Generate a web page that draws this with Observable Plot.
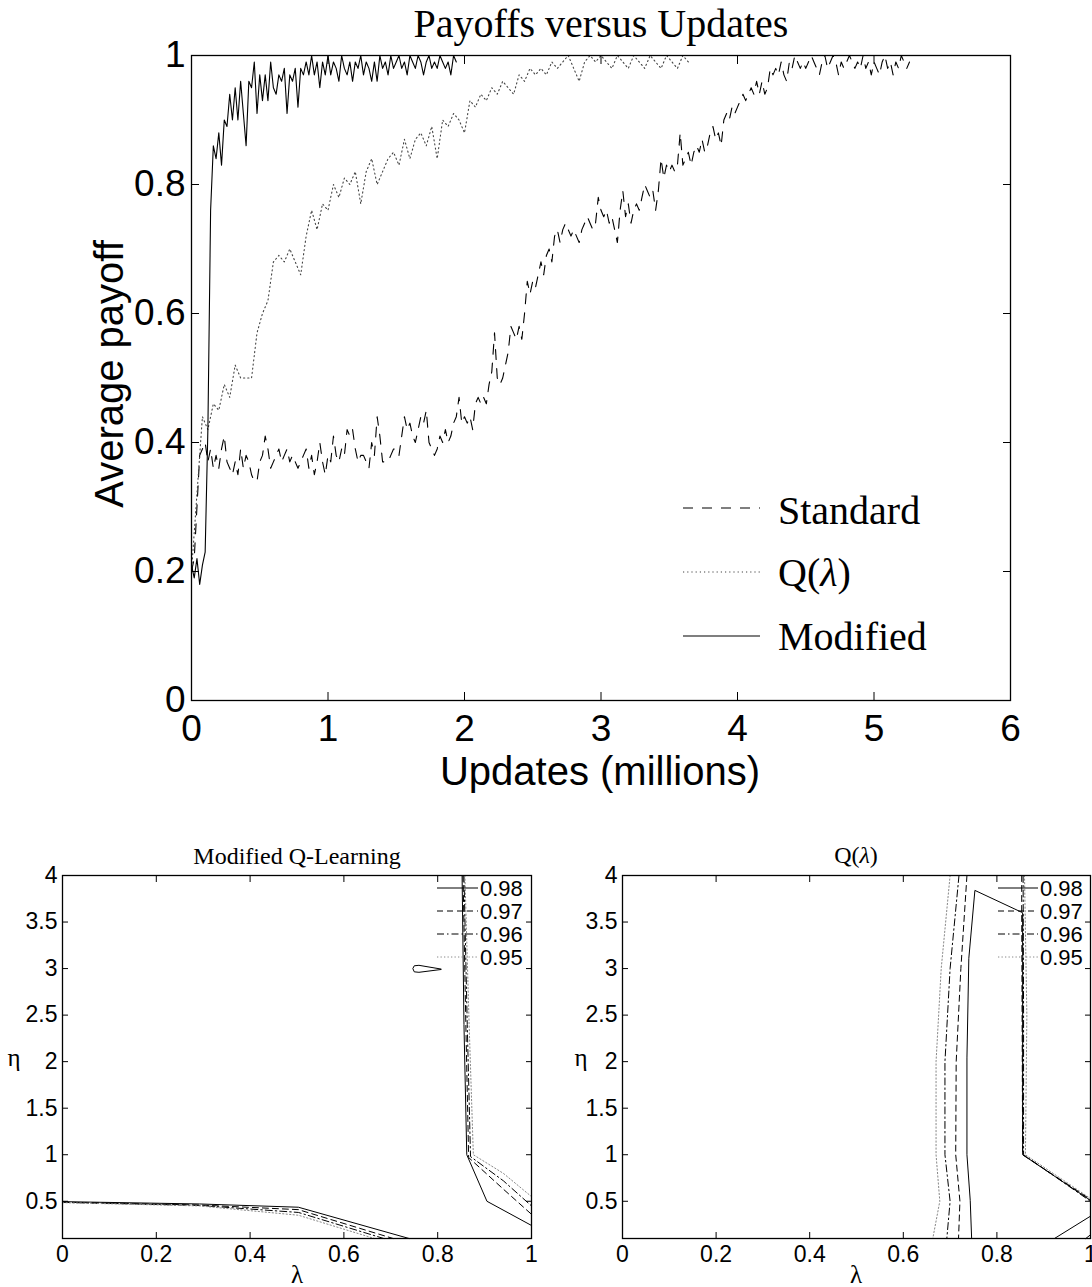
<!DOCTYPE html>
<html><head><meta charset="utf-8">
<script src="https://cdn.jsdelivr.net/npm/d3@7"></script>
<script src="https://cdn.jsdelivr.net/npm/@observablehq/plot@0.6"></script>
<style>
body{margin:0;background:#fff;}
#page{position:relative;width:1092px;height:1287px;overflow:hidden;background:#fff;}
#page > svg, #page > div{position:absolute;}
</style></head><body><div id="page"></div>
<script>
// ---------- Top chart data ----------
const topTitle = "Payoffs versus Updates";
const topXLabel = "Updates (millions)";
const topYLabel = "Average payoff";
const topXTicks = [0, 1, 2, 3, 4, 5, 6];
const topYTicks = [0, 0.2, 0.4, 0.6, 0.8, 1];
const seriesNames = ["Standard", "Q(λ)", "Modified"];

// Standard Q-learning, sampled every 0.02 million updates from 0
const standardStep = 0.02;
const standardPayoff = [
  0.20,0.22,0.30,0.38,0.39,0.40,0.37,0.39,0.36,0.38,
  0.36,0.39,0.41,0.37,0.36,0.35,0.37,0.35,0.39,0.36,
  0.38,0.37,0.35,0.34,0.34,0.37,0.38,0.41,0.39,0.36,
  0.37,0.38,0.39,0.37,0.38,0.39,0.37,0.38,0.37,0.36,
  0.37,0.38,0.39,0.36,0.38,0.35,0.37,0.40,0.37,0.35,
  0.38,0.37,0.41,0.38,0.37,0.39,0.38,0.42,0.41,0.42,
  0.39,0.37,0.38,0.38,0.37,0.36,0.40,0.38,0.44,0.41,
  0.37,0.37,0.37,0.38,0.39,0.39,0.38,0.41,0.44,0.42,
  0.43,0.41,0.40,0.42,0.44,0.43,0.45,0.40,0.39,0.38,
  0.39,0.41,0.40,0.42,0.40,0.41,0.43,0.44,0.47,0.43,
  0.44,0.43,0.44,0.42,0.46,0.47,0.46,0.47,0.46,0.49,
  0.51,0.57,0.50,0.49,0.50,0.52,0.54,0.58,0.57,0.56,
  0.58,0.56,0.60,0.65,0.63,0.65,0.64,0.66,0.68,0.66,
  0.69,0.70,0.68,0.72,0.73,0.71,0.73,0.74,0.73,0.72,
  0.73,0.72,0.71,0.73,0.74,0.75,0.74,0.73,0.74,0.78,
  0.76,0.75,0.76,0.74,0.75,0.73,0.71,0.76,0.79,0.75,
  0.77,0.74,0.76,0.77,0.76,0.78,0.80,0.79,0.78,0.79,
  0.76,0.79,0.84,0.81,0.83,0.82,0.83,0.82,0.83,0.88,
  0.83,0.84,0.85,0.83,0.85,0.86,0.85,0.87,0.85,0.86,
  0.88,0.89,0.87,0.88,0.86,0.90,0.91,0.90,0.92,0.91,
  0.92,0.93,0.94,0.93,0.94,0.95,0.94,0.96,0.94,0.96,
  0.94,0.95,0.98,0.97,0.98,0.97,0.99,0.97,0.96,0.99,
  0.98,1.00,0.99,0.98,0.99,0.98,0.99,1.00,0.99,0.98,
  0.97,0.99,1.00,0.98,0.99,1.00,0.99,0.97,0.99,0.98,
  0.99,1.00,0.99,0.98,0.99,0.98,1.00,0.98,0.99,0.97,
  0.99,0.98,0.97,0.99,1.00,0.98,0.99,0.97,0.99,0.98,
  1.00,0.99,0.98,0.99
];

// Q(lambda), sampled every 0.04 million updates from 0
const qLambdaStep = 0.04;
const qLambdaPayoff = [
  0.20,0.32,0.44,0.42,0.46,0.45,0.49,0.47,0.52,0.50,
  0.50,0.50,0.57,0.60,0.62,0.68,0.69,0.68,0.70,0.68,
  0.66,0.72,0.76,0.73,0.77,0.76,0.80,0.78,0.81,0.80,
  0.82,0.77,0.82,0.84,0.80,0.82,0.84,0.85,0.83,0.87,
  0.84,0.87,0.88,0.86,0.89,0.84,0.90,0.89,0.91,0.90,
  0.88,0.93,0.92,0.94,0.93,0.95,0.94,0.96,0.95,0.94,
  0.97,0.96,0.98,0.97,0.98,0.97,0.99,0.98,0.99,1.00,
  0.98,0.96,0.99,1.00,0.99,1.00,0.99,0.98,1.00,0.99,
  0.98,1.00,0.99,0.98,1.00,0.99,0.98,1.00,0.99,0.98,
  1.00,0.99
];

// Modified Q-learning, sampled every 0.02 million updates from 0
const modifiedStep = 0.02;
const modifiedPayoff = [
  0.21,0.19,0.22,0.18,0.21,0.23,0.42,0.76,0.86,0.84,
  0.88,0.83,0.90,0.89,0.94,0.90,0.95,0.90,0.96,0.91,
  0.86,0.96,0.95,0.99,0.91,0.97,0.93,0.97,0.93,0.99,
  0.95,0.94,0.97,0.96,0.98,0.91,0.97,0.96,0.98,0.92,
  0.98,0.97,0.99,0.97,1.00,0.97,0.99,0.95,0.99,0.97,
  1.00,0.97,0.99,0.98,0.96,1.00,0.98,0.97,0.99,0.96,
  0.99,0.98,1.00,0.97,0.99,0.98,0.96,0.99,0.96,1.00,
  0.98,0.99,0.97,1.00,0.98,0.99,1.00,0.98,0.99,0.97,
  1.00,0.99,0.98,1.00,0.99,0.97,0.99,1.00,0.98,0.99,
  0.98,1.00,0.99,0.98,0.99,0.97,1.00,0.99
];

// ---------- Contour panels data ----------
const contourLevels = ["0.98", "0.97", "0.96", "0.95"];
const lambdaTicks = [0, 0.2, 0.4, 0.6, 0.8, 1];
const etaTicks = [0.5, 1, 1.5, 2, 2.5, 3, 3.5, 4];
const leftTitle = "Modified Q-Learning";

// Modified Q-Learning contours: pieces of [lambda, eta]
const mq98 = [
  [[0,0.496],[0.292,0.471],[0.503,0.436],[0.739,0.1]],
  [[0.852,4],[0.856,2.4],[0.862,1.0],[0.905,0.5],[1.0,0.24]],
  [[0.807,2.995],[0.76,3.035],[0.75,3.03],[0.747,3.0],[0.75,2.965],[0.76,2.96],[0.807,2.99]]
];
const mq97 = [
  [[0,0.49],[0.292,0.46],[0.503,0.41],[0.705,0.1]],
  [[0.854,4],[0.86,2.4],[0.866,0.97],[0.94,0.63],[1.0,0.36]]
];
const mq96 = [
  [[0,0.488],[0.292,0.455],[0.503,0.38],[0.685,0.1]],
  [[0.856,4],[0.863,2.4],[0.87,0.98],[0.94,0.72],[1.0,0.45]]
];
const mq95 = [
  [[0,0.485],[0.292,0.45],[0.503,0.35],[0.665,0.1]],
  [[0.858,4],[0.867,2.4],[0.876,1.0],[0.94,0.80],[1.0,0.55]]
];

// Q(lambda) contours
const ql98 = [
  [[0.746,0.1],[0.743,0.51],[0.736,1.0],[0.736,2.04],[0.740,3.11],[0.753,3.84],[0.855,3.6],[0.855,1.0],[1.0,0.51]],
  [[0.923,0.1],[1.0,0.34]]
];
const ql97 = [
  [[0.736,4],[0.723,3],[0.713,2],[0.712,1],[0.721,0.5],[0.718,0.1]],
  [[0.853,4],[0.853,3.6],[0.855,1.0],[1.0,0.52]],
  [[0.99,0.1],[1.0,0.14]]
];
const ql96 = [
  [[0.719,4],[0.700,3],[0.689,2],[0.689,1],[0.700,0.5],[0.693,0.1]],
  [[0.856,4],[0.857,2.5],[0.857,1.0],[1.0,0.5]]
];
const ql95 = [
  [[0.700,4],[0.681,3],[0.670,2],[0.670,1],[0.678,0.5],[0.663,0.1]],
  [[0.859,4],[0.864,2.5],[0.861,1.0],[1.0,0.53]]
];

// ---------- Styles ----------
const SANS = "'Liberation Sans', Arial, Helvetica, sans-serif";
const SERIF = "'Liberation Serif', 'DejaVu Serif', serif";
const seriesStyle = {
  "Standard": {stroke: "#000", dash: "10,9", width: 1.1},
  "Q(λ)": {stroke: "#444", dash: "1.2,3", width: 1.1},
  "Modified": {stroke: "#000", dash: null, width: 1.1}
};
const levelStyle = {
  "0.98": {stroke: "#000", dash: null},
  "0.97": {stroke: "#000", dash: "6,4"},
  "0.96": {stroke: "#000", dash: "7,3,1.5,3"},
  "0.95": {stroke: "#888", dash: "1.3,2.2"}
};

const page = document.getElementById("page");

function toRows(values, step) {
  return values.map((y, i) => ({x: Math.round(i * step * 1000) / 1000, y}));
}
const seriesRows = {
  "Standard": toRows(standardPayoff, standardStep),
  "Q(λ)": toRows(qLambdaPayoff, qLambdaStep),
  "Modified": toRows(modifiedPayoff, modifiedStep)
};

// ---------- Top plot ----------
const fmt = d => String(d);
const topPlot = Plot.plot({
  width: 1092, height: 800,
  marginTop: 55, marginBottom: 100, marginLeft: 191, marginRight: 82,
  style: {fontFamily: SANS, fontSize: "37px", color: "#000", background: "transparent", overflow: "visible"},
  x: {domain: [0, 6]},
  y: {domain: [0, 1]},
  marks: [
    ...seriesNames.map(name => Plot.line(seriesRows[name], {
      x: "x", y: "y", stroke: seriesStyle[name].stroke,
      strokeWidth: seriesStyle[name].width,
      strokeDasharray: seriesStyle[name].dash || undefined
    })),
    Plot.axisX({ticks: topXTicks, tickSize: -8, tickPadding: 22, tickFormat: fmt, label: null}),
    Plot.axisX({anchor: "top", ticks: topXTicks, tickSize: -8, tickFormat: () => "", label: null}),
    Plot.axisY({ticks: topYTicks, tickSize: -8, tickPadding: 14, tickFormat: fmt, label: null}),
    Plot.axisY({anchor: "right", ticks: topYTicks, tickSize: -8, tickFormat: () => "", label: null}),
    Plot.frame({stroke: "#000", strokeWidth: 1.3})
  ]
});
topPlot.style.left = "0px"; topPlot.style.top = "0px";
page.appendChild(topPlot);

// ---------- Contour panels ----------
function contourPanel(pieces, width, marginLeft, marginRight) {
  const marks = [];
  contourLevels.forEach((lev, li) => {
    const rows = [];
    pieces[li].forEach((piece, pi) => piece.forEach(([l, e]) => rows.push({lambda: l, eta: e, piece: pi})));
    marks.push(Plot.line(rows, {
      x: "lambda", y: "eta", z: "piece",
      stroke: levelStyle[lev].stroke, strokeWidth: 1,
      strokeDasharray: levelStyle[lev].dash || undefined
    }));
  });
  return Plot.plot({
    width, height: 447,
    marginTop: 35, marginBottom: 49, marginLeft, marginRight,
    style: {fontFamily: SANS, fontSize: "23px", color: "#000", background: "transparent", overflow: "visible"},
    x: {domain: [0, 1]},
    y: {domain: [0.1, 4]},
    marks: [
      ...marks,
      Plot.axisX({ticks: lambdaTicks, tickSize: -6, tickPadding: 13, tickFormat: fmt, label: null}),
      Plot.axisX({anchor: "top", ticks: lambdaTicks, tickSize: -6, tickFormat: () => "", label: null}),
      Plot.axisY({ticks: etaTicks, tickSize: -6, tickPadding: 11, tickFormat: fmt, label: null}),
      Plot.axisY({anchor: "right", ticks: etaTicks, tickSize: -6, tickFormat: () => "", label: null}),
      Plot.frame({stroke: "#000", strokeWidth: 1.3})
    ]
  });
}
const leftPanel = contourPanel([mq98, mq97, mq96, mq95], 545, 62, 14);
leftPanel.style.left = "0px"; leftPanel.style.top = "840px";
page.appendChild(leftPanel);
const rightPanel = contourPanel([ql98, ql97, ql96, ql95], 547, 77, 2);
rightPanel.style.left = "545px"; rightPanel.style.top = "840px";
page.appendChild(rightPanel);

// ---------- Overlay: titles, axis labels, legends ----------
const ov = d3.select(page).append("svg")
  .attr("width", 1092).attr("height", 1287)
  .style("left", "0px").style("top", "0px").style("pointer-events", "none");

function qLambdaText(sel) {
  sel.append("tspan").text("Q(");
  sel.append("tspan").attr("font-style", "italic").text("λ");
  sel.append("tspan").text(")");
}

// top title & labels
ov.append("text").attr("x", 601).attr("y", 37).attr("text-anchor", "middle")
  .attr("font-family", SERIF).attr("font-size", 40).text(topTitle);
ov.append("text").attr("x", 600).attr("y", 785).attr("text-anchor", "middle")
  .attr("font-family", SANS).attr("font-size", 40).text(topXLabel);
ov.append("text").attr("transform", "translate(123,374) rotate(-90)").attr("text-anchor", "middle")
  .attr("font-family", SANS).attr("font-size", 40).text(topYLabel);

// top legend
const legY = [508, 572, 636];
const legBase = [524, 586, 650];
seriesNames.forEach((name, i) => {
  const st = seriesStyle[name];
  ov.append("line").attr("x1", 683).attr("x2", 760).attr("y1", legY[i]).attr("y2", legY[i])
    .attr("stroke", st.stroke).attr("stroke-width", 1.1)
    .attr("stroke-dasharray", st.dash || null);
  const t = ov.append("text").attr("x", 778).attr("y", legBase[i])
    .attr("font-family", SERIF).attr("font-size", 40);
  if (name === "Q(λ)") qLambdaText(t); else t.text(name);
});

// bottom titles & labels
ov.append("text").attr("x", 297).attr("y", 864).attr("text-anchor", "middle")
  .attr("font-family", SERIF).attr("font-size", 24).text(leftTitle);
qLambdaText(ov.append("text").attr("x", 856).attr("y", 863).attr("text-anchor", "middle")
  .attr("font-family", SERIF).attr("font-size", 24));
[[14, 297], [581, 856]].forEach(([ex, lx]) => {
  ov.append("text").attr("x", ex).attr("y", 1066).attr("text-anchor", "middle")
    .attr("font-family", SERIF).attr("font-size", 25).text("η");
  ov.append("text").attr("x", lx).attr("y", 1283).attr("text-anchor", "middle")
    .attr("font-family", SERIF).attr("font-size", 25).text("λ");
});

// bottom legends
const bLegY = [888, 911, 934, 957];
[[437, 478, 480], [998, 1038, 1040]].forEach(([x1, x2, tx]) => {
  contourLevels.forEach((lev, i) => {
    const st = levelStyle[lev];
    ov.append("line").attr("x1", x1).attr("x2", x2).attr("y1", bLegY[i]).attr("y2", bLegY[i])
      .attr("stroke", st.stroke).attr("stroke-width", 1)
      .attr("stroke-dasharray", st.dash || null);
    ov.append("text").attr("x", tx).attr("y", bLegY[i] + 8)
      .attr("font-family", SANS).attr("font-size", 22).text(lev);
  });
});
</script></body></html>
